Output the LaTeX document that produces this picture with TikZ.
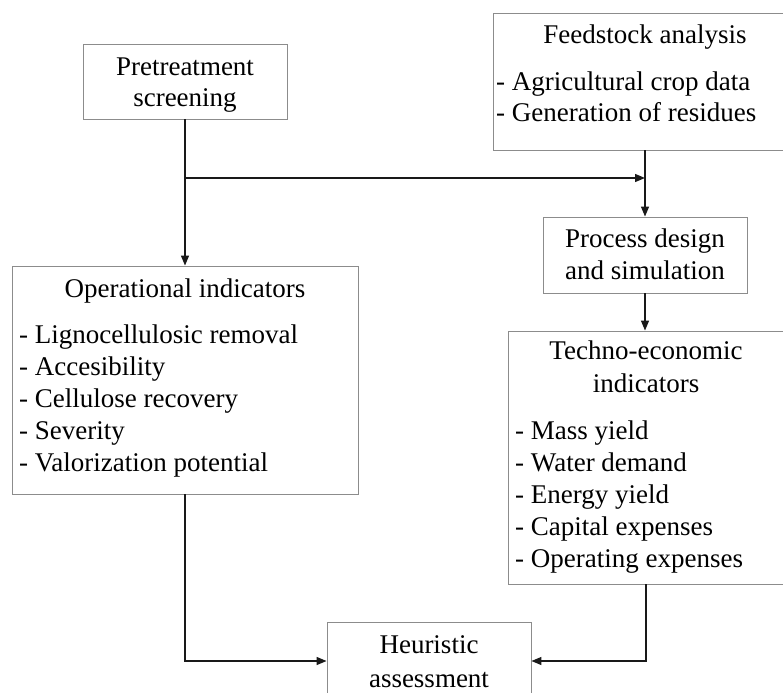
\documentclass[tikz,border=0pt]{standalone}
\usepackage{fontspec}
\setmainfont{Liberation Serif}
\usetikzlibrary{arrows.meta}
\begin{document}
\begin{tikzpicture}[x=1bp,y=-1bp,
  box/.style={draw=black!45, line width=0.9bp, rectangle, inner sep=0pt},
  txt/.style={inner sep=0pt, anchor=base, font=\fontsize{27bp}{32bp}\selectfont},
  lst/.style={txt, anchor=base west},
  arr/.style={draw=black!90, line width=1.3bp, -{Triangle[length=10bp,width=8bp]}}]
\useasboundingbox (0,0) rectangle (783,693);
% boxes
\node[box, minimum width=204bp, minimum height=75bp] (pre) at (185,81.5) {};
\node[box, minimum width=304bp, minimum height=137bp] (feed) at (645,81.5) {};
\node[box, minimum width=204bp, minimum height=76bp] (proc) at (645,255) {};
\node[box, minimum width=346bp, minimum height=228bp] (oper) at (185,380) {};
\node[box, minimum width=276bp, minimum height=253bp] (tech) at (646,457.5) {};
\node[box, minimum width=204bp, minimum height=78bp] (heur) at (429,661) {};
% texts
\node[txt] (pre1) at (185,76) {Pretreatment};
\node[txt] (pre2) at (185,107) {screening};
\node[txt] (feed0) at (645,44) {Feedstock analysis};
\node[lst] (feed1) at (496,91) {- Agricultural crop data};
\node[lst] (feed2) at (496,122) {- Generation of residues};
\node[txt] (proc1) at (645,247) {Process design};
\node[txt] (proc2) at (645,279) {and simulation};
\node[txt] (oper0) at (185,297) {Operational indicators};
\node[lst] (oper1) at (19,343) {- Lignocellulosic removal};
\node[lst] (oper2) at (19,375) {- Accesibility};
\node[lst] (oper3) at (19,407) {- Cellulose recovery};
\node[lst] (oper4) at (19,439) {- Severity};
\node[lst] (oper5) at (19,471) {- Valorization potential};
\node[txt] (tech1) at (646,359) {Techno-economic};
\node[txt] (tech2) at (646,392) {indicators};
\node[lst] (tech3) at (515,439) {- Mass yield};
\node[lst] (tech4) at (515,471) {- Water demand};
\node[lst] (tech5) at (515,503) {- Energy yield};
\node[lst] (tech6) at (515,535) {- Capital expenses};
\node[lst] (tech7) at (515,567) {- Operating expenses};
\node[txt] (heur1) at (429,653) {Heuristic};
\node[txt] (heur2) at (429,687) {assessment};
% connectors
\coordinate (j1) at (185,178);
\draw[arr] (pre.south) -- (oper.north);
\draw[arr] (j1) -- (j1 -| feed.south);
\draw[arr] (feed.south) -- (proc.north);
\draw[arr] (proc.south) -- (proc.south |- tech.north);
\draw[arr] (oper.south) |- (heur.west);
\draw[arr] (tech.south) |- (heur.east);
\end{tikzpicture}
\end{document}
